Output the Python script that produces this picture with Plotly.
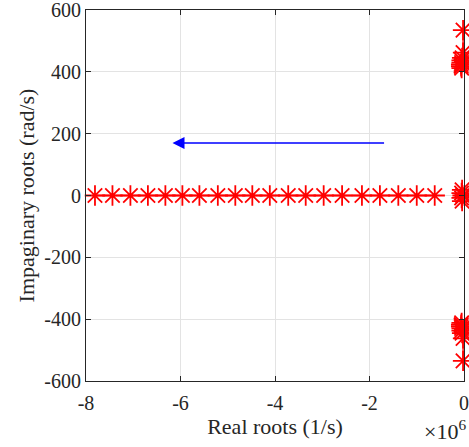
import plotly.graph_objects as go

# Real-axis roots (1/s) moving left as the parameter grows
real_roots_re = [-0.62e6, -1.00e6, -1.39e6, -1.78e6, -2.16e6, -2.58e6, -2.97e6,
                 -3.35e6, -3.72e6, -4.11e6, -4.48e6, -4.84e6, -5.21e6, -5.60e6,
                 -5.96e6, -6.32e6, -6.69e6, -7.06e6, -7.44e6, -7.81e6]
real_roots_im = [0] * len(real_roots_re)

# Complex pair near the imaginary axis (upper branch; lower is its conjugate)
cplx_re = [-0.02e6, -0.02e6, -0.04e6, -0.05e6, -0.05e6, -0.06e6, -0.06e6, -0.05e6]
cplx_im = [535, 462, 445, 437, 430, 424, 418, 412]

# Roots clustered at the origin
origin_re = [-0.04e6, -0.05e6, -0.03e6, -0.05e6, -0.04e6]
origin_im = [-18, -8, 0, 8, 18]

# Arrow (direction of motion)
arrow_tail = (-1.66e6, 170)
arrow_tip = (-6.17e6, 170)

x_ticks = [-8e6, -6e6, -4e6, -2e6, 0]
x_ticktext = ["-8", "-6", "-4", "-2", "0"]
y_ticks = [-600, -400, -200, 0, 200, 400, 600]
y_ticktext = ["-600", "-400", "-200", "0", "200", "400", "600"]

red = "#ff0000"
ink = "#262626"
serif = "Liberation Serif"
marker = dict(symbol="asterisk-open", size=17, color=red,
              line=dict(color=red, width=1.8))

fig = go.Figure()
fig.add_trace(go.Scatter(x=real_roots_re, y=real_roots_im, mode="lines+markers",
                         line=dict(color=red, width=1.3), marker=marker,
                         cliponaxis=False, showlegend=False))
fig.add_trace(go.Scatter(x=cplx_re, y=cplx_im, mode="lines+markers",
                         line=dict(color=red, width=1.3), marker=marker,
                         cliponaxis=False, showlegend=False))
fig.add_trace(go.Scatter(x=cplx_re, y=[-v for v in cplx_im], mode="lines+markers",
                         line=dict(color=red, width=1.3), marker=marker,
                         cliponaxis=False, showlegend=False))
fig.add_trace(go.Scatter(x=origin_re, y=origin_im, mode="markers", marker=marker,
                         cliponaxis=False, showlegend=False))

fig.add_annotation(x=arrow_tip[0], y=arrow_tip[1], ax=arrow_tail[0], ay=arrow_tail[1],
                   xref="x", yref="y", axref="x", ayref="y", text="",
                   showarrow=True, arrowhead=2, arrowsize=1.6, arrowwidth=1.5,
                   arrowcolor="#0000ff")

fig.add_annotation(x=1 + 4 / 378, y=-(414 - 381) / 371, xref="paper", yref="paper",
                   text="×10<sup>6</sup>", showarrow=False, xanchor="right", yanchor="top",
                   font=dict(family=serif, size=22, color=ink))

axis_common = dict(showline=True, linecolor=ink, linewidth=1, mirror="allticks",
                   ticks="inside", ticklen=5, tickcolor=ink, automargin=False,
                   ticklabeloverflow="allow",
                   showgrid=True, gridcolor="#e3e3e3", gridwidth=1, zeroline=False,
                   tickfont=dict(family=serif, size=20, color=ink))

fig.update_xaxes(range=[-8e6, 0], tickvals=x_ticks, ticktext=x_ticktext,
                 ticklabelstandoff=4,
                 title=dict(text="Real roots (1/s)", standoff=5,
                            font=dict(family=serif, size=22, color=ink)),
                 **axis_common)
fig.update_yaxes(range=[-600, 600], tickvals=y_ticks, ticktext=y_ticktext,
                 title=dict(text="Impaginary roots (rad/s)", standoff=3,
                            font=dict(family=serif, size=22, color=ink)),
                 **axis_common)

fig.update_layout(width=469, height=447, margin=dict(l=86, r=5, t=10, b=66),
                  plot_bgcolor="white", paper_bgcolor="white")

fig.write_html("out.html", config={"displayModeBar": False},
               post_script="document.body.style.margin='0';")
